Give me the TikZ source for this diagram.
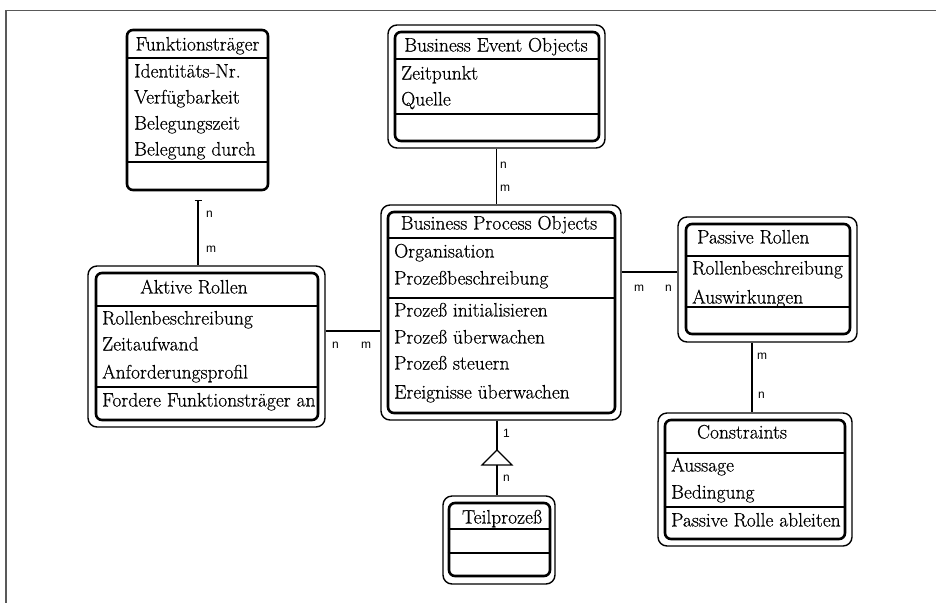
\documentclass[tikz,border=0pt]{standalone}
\usepackage{fontspec}
\newfontfamily\boxfont[FakeBold=0.5]{Latin Modern Roman}
\newfontfamily\lblfont{Liberation Sans}
\usetikzlibrary{arrows.meta}
\tikzset{
  outerb/.style={draw, rounded corners=9pt, line width=1.4pt, inner sep=0pt},
  innerb/.style={draw, rounded corners=6pt, line width=2.6pt, inner sep=0pt},
  div/.style={line width=1.1pt},
  con/.style={line width=1.1pt},
  txt/.style={anchor=base west, inner sep=0pt, font=\boxfont\fontsize{19.5}{21}\selectfont},
  hdr/.style={anchor=base, inner sep=0pt, font=\boxfont\fontsize{19.5}{21}\selectfont},
  card/.style={anchor=base west, inner sep=0pt, font=\lblfont\fontsize{12}{13}\selectfont},
}
\begin{document}
\begin{tikzpicture}[x=1pt,y=-1pt]
\useasboundingbox (0,0) rectangle (936,603);
% frame
\draw[line width=1.3pt, black!65] (936,10.5) -- (6,10.5) -- (6,603);

% Funktionstraeger (single thick box)
\node[innerb, minimum width=141pt, minimum height=160pt] (ft) at (197.5,110) {};
\draw[div] (ft.west |- 0,58) -- (ft.east |- 0,58);
\draw[div] (ft.west |- 0,162) -- (ft.east |- 0,162);
\node[hdr] (fth) at (197.5,50.5) {Funktionsträger};
\node[txt] (ft1) at (134,77.5) {Identitäts-Nr.};
\node[txt] (ft2) at (134,103.5) {Verfügbarkeit};
\node[txt] (ft3) at (134,129.5) {Belegungszeit};
\node[txt] (ft4) at (134,155.5) {Belegung durch};

% Business Event Objects
\node[outerb, minimum width=217pt, minimum height=123pt] (beo) at (496.5,86.5) {};
\node[innerb, minimum width=204pt, minimum height=109pt] (beoi) at (497,86.5) {};
\draw[div] (beoi.west |- 0,59) -- (beoi.east |- 0,59);
\draw[div] (beoi.west |- 0,114) -- (beoi.east |- 0,114);
\node[hdr] (beoh) at (496,51.5) {Business Event Objects};
\node[txt] (beo1) at (401,79.5) {Zeitpunkt};
\node[txt] (beo2) at (401,105.5) {Quelle};

% Business Process Objects
\node[outerb, minimum width=240pt, minimum height=215pt] (bpo) at (501,312.5) {};
\node[innerb, minimum width=227pt, minimum height=201pt] (bpoi) at (501.5,312.5) {};
\draw[div] (bpoi.west |- 0,238) -- (bpoi.east |- 0,238);
\draw[div] (bpoi.west |- 0,298) -- (bpoi.east |- 0,298);
\node[hdr] (bpoh) at (499,229.5) {Business Process Objects};
\node[txt] (bpo1) at (394,257.5) {Organisation};
\node[txt] (bpo2) at (394,284.5) {Prozeßbeschreibung};
\node[txt] (bpo3) at (394,316.5) {Prozeß initialisieren};
\node[txt] (bpo4) at (394,343.5) {Prozeß überwachen};
\node[txt] (bpo5) at (394,369.5) {Prozeß steuern};
\node[txt] (bpo6) at (394,398.5) {Ereignisse überwachen};

% Aktive Rollen
\node[outerb, minimum width=237pt, minimum height=161pt] (ar) at (206.5,346.5) {};
\node[innerb, minimum width=222pt, minimum height=147pt] (ari) at (207,346.5) {};
\draw[div] (ari.west |- 0,306) -- (ari.east |- 0,306);
\draw[div] (ari.west |- 0,387) -- (ari.east |- 0,387);
\node[hdr] (arh) at (194,293.5) {Aktive Rollen};
\node[txt] (ar1) at (102,324.5) {Rollenbeschreibung};
\node[txt] (ar2) at (102,350.5) {Zeitaufwand};
\node[txt] (ar3) at (102,378.5) {Anforderungsprofil};
\node[txt] (ar4) at (102,406.5) {Fordere Funktionsträger an};

% Passive Rollen
\node[outerb, minimum width=179pt, minimum height=125pt] (pr) at (767.5,279.5) {};
\node[innerb, minimum width=164pt, minimum height=110pt] (pri) at (768,279) {};
\draw[div] (pri.west |- 0,256) -- (pri.east |- 0,256);
\draw[div] (pri.west |- 0,307) -- (pri.east |- 0,307);
\node[txt] (prh) at (697,243.5) {Passive Rollen};
\node[txt] (pr1) at (692,274.5) {Rollenbeschreibung};
\node[txt] (pr2) at (692,303.5) {Auswirkungen};

% Constraints
\node[outerb, minimum width=194pt, minimum height=133pt] (con) at (755,479.5) {};
\node[innerb, minimum width=180pt, minimum height=119pt] (coni) at (755,479.5) {};
\draw[div] (coni.west |- 0,453) -- (coni.east |- 0,453);
\draw[div] (coni.west |- 0,507) -- (coni.east |- 0,507);
\node[hdr] (conh) at (742,438.5) {Constraints};
\node[txt] (con1) at (671,471.5) {Aussage};
\node[txt] (con2) at (671,498.5) {Bedingung};
\node[txt] (con3) at (671,526.5) {Passive Rolle ableiten};

% Teilprozess
\node[outerb, minimum width=112pt, minimum height=88pt] (tp) at (499,540) {};
\node[innerb, minimum width=101pt, minimum height=73pt] (tpi) at (499.5,539.5) {};
\draw[div] (tpi.west |- 0,529) -- (tpi.east |- 0,529);
\draw[div] (tpi.west |- 0,553) -- (tpi.east |- 0,553);
\node[hdr] (tph) at (502,523.5) {Teilprozeß};

% connectors
\coordinate (fte) at (198,200);
\draw[con, {Bar[width=7pt, line width=1.1pt]}-] (fte) -- (fte |- ar.north);
\node[card] (c1n) at (206,217) {n};
\node[card] (c1m) at (206,252) {m};

\draw[con] (beo.south) -- (beo.south |- bpo.north);
\node[card] (c2n) at (500,168) {n};
\node[card] (c2m) at (500,191) {m};

\draw[con] (ar.east |- 0,331) -- (bpo.west |- 0,331);
\node[card] (c3n) at (332,348) {n};
\node[card] (c3m) at (361,348) {m};

\draw[con] (bpo.east |- 0,272) -- (pr.west |- 0,272);
\node[card] (c4m) at (634,291) {m};
\node[card] (c4n) at (665,291) {n};

\draw[con] (pr.south -| 752,0) -- (con.north -| 752,0);
\node[card] (c5m) at (757,359) {m};
\node[card] (c5n) at (758,398) {n};

\coordinate (triA) at (497,450);
\coordinate (triB) at (497,465);
\draw[con] (triA |- bpo.south) -- (triA);
\draw[con, line join=miter] (triA) -- ++(15,15) -- ++(-30,0) -- cycle;
\draw[con] (triB) -- (triB |- tp.north);
\node[card] (c6a) at (503,437) {1};
\node[card] (c6n) at (503,481) {n};
\end{tikzpicture}
\end{document}
